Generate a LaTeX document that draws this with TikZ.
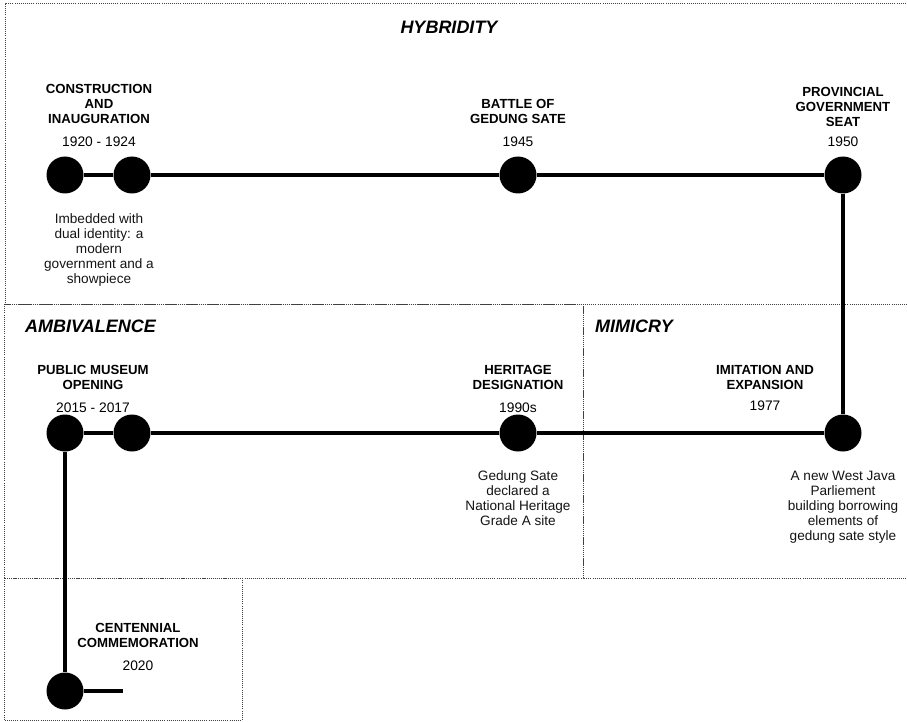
\documentclass[tikz,border=0pt]{standalone}
\usepackage{fontspec}
\setmainfont{Liberation Sans}
\usepackage{tikz}
\usetikzlibrary{positioning}

\definecolor{framegray}{gray}{0.25}
\definecolor{descgray}{gray}{0.08}

\begin{document}
\begin{tikzpicture}[x=1pt, y=-1pt,
	dot/.style={circle, fill=black, minimum size=37pt, inner sep=0pt},
	link/.style={line width=3.2pt},
	frame/.style={framegray, line width=1pt, dash pattern=on 1pt off 1.1pt},
	phase/.style={font=\bfseries\itshape\fontsize{18}{20}\selectfont, inner sep=0pt},
	ttl/.style={font=\bfseries\fontsize{13.2}{15}\selectfont, align=center, inner sep=0pt},
	yr/.style={font=\fontsize{13.8}{15}\selectfont, inner sep=0pt, anchor=base},
	desc/.style={font=\fontsize{13.6}{15}\selectfont, align=center, inner sep=0pt, text=descgray, anchor=north}]

\useasboundingbox (0,0) rectangle (907,722);

% phase boxes
\draw[frame] (908,4) -- (5,4) -- (5,304) -- (908,304); % hybridity
\draw[frame] (4,304) rectangle (583,578); % ambivalence
\draw[frame] (583,304) -- (583,578) -- (908,578); % mimicry
\draw[frame] (4,578) rectangle (242,720); % centennial

\node[phase, anchor=base] (hyb) at (449,34) {HYBRIDITY};
\node[phase, anchor=base west] (amb) at (25,332) {AMBIVALENCE};
\node[phase, anchor=base west] (mim) at (595,332) {MIMICRY};

% milestones
\foreach \n/\x/\y in {c1920/65/175, c1924/132/175, c1945/518/175, c1950/843/175,
	c2015/65/433, c2017/132/433, c1990/518/433, c1977/843/433, c2020/65/691} {
	\node[dot] (\n) at (\x,\y) {};
}
\coordinate (s2020) at (123,691); % loose end

\draw[link] (c1920) -- (c1924) -- (c1945) -- (c1950) -- (c1977) -- (c1990) -- (c2017) -- (c2015) -- (c2020) -- (s2020);

% years
\node[yr] (y1920) at (99,147)  {1920 - 1924};
\node[yr] (y1945) at (518,147) {1945};
\node[yr] (y1950) at (843,147) {1950};
\node[yr] (y2015) at (93,412)  {2015 - 2017};
\node[yr] (y1990) at (518,412) {1990s};
\node[yr] (y1977) at (765,410) {1977};
\node[yr] (y2020) at (138,670) {2020};

% titles
\node[ttl, above=13pt of y1920] (t1920) {CONSTRUCTION\\AND\\INAUGURATION};
\node[ttl, above=13pt of y1945] (t1945) {BATTLE OF\\GEDUNG SATE};
\node[ttl, above=10pt of y1950] (t1950) {PROVINCIAL\\GOVERNMENT\\SEAT};
\node[ttl, above=12pt of y2015] (t2015) {PUBLIC MUSEUM\\OPENING};
\node[ttl, above=12pt of y1990] (t1990) {HERITAGE\\DESIGNATION};
\node[ttl, above=10pt of y1977] (t1977) {IMITATION AND\\EXPANSION};
\node[ttl, above=12pt of y2020] (t2020) {CENTENNIAL\\COMMEMORATION};

% notes
\node[desc] (d1920) at (99,213) {Imbedded with\\dual identity: a\\modern\\government and a\\showpiece};
\node[desc, below=19pt of c1990] (d1990) {Gedung Sate\\declared a\\National Heritage\\Grade A site};
\node[desc, below=19pt of c1977] (d1977) {A new West Java\\Parliement\\building borrowing\\elements of\\gedung sate style};

\end{tikzpicture}
\end{document}
